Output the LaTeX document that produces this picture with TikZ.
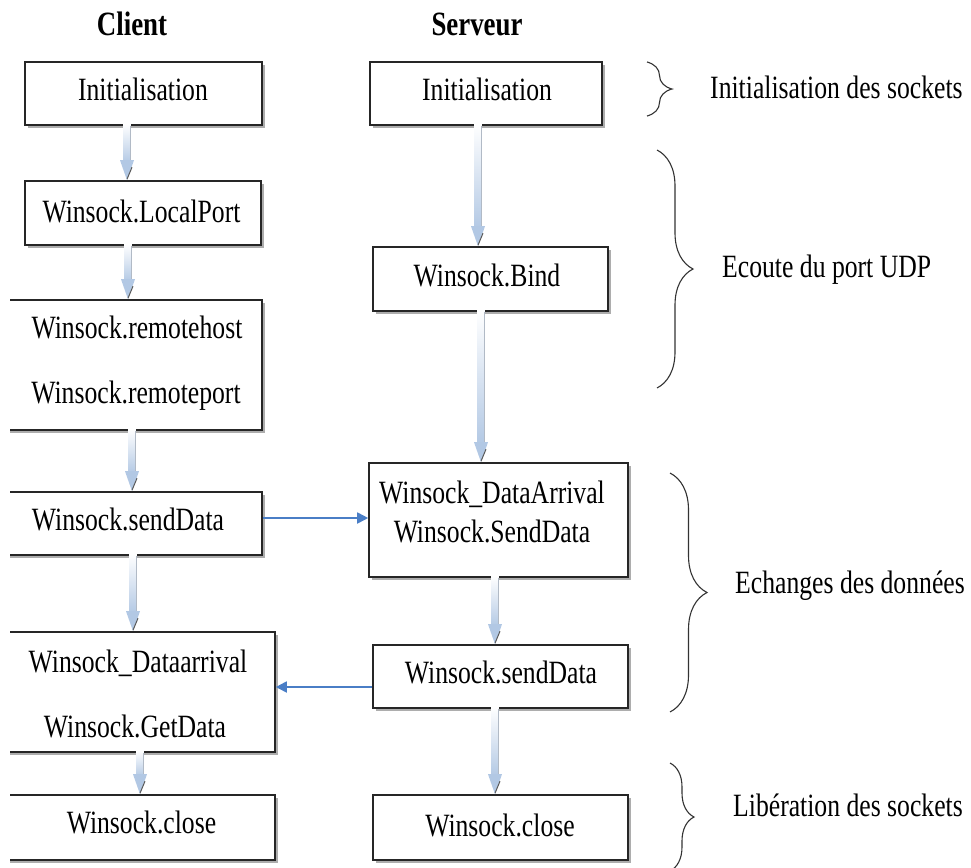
\documentclass[tikz,border=0pt]{standalone}
\usepackage{fontspec}
\setmainfont{Liberation Serif}[FakeStretch=0.79]
\usetikzlibrary{calc,shadows,decorations.pathreplacing,arrows.meta}
\definecolor{arrowfill}{RGB}{178,200,228}
\definecolor{linkblue}{RGB}{74,126,198}
\newcommand\boxfont{\fontsize{32.5}{39}\selectfont}
\newcommand\headfont{\fontsize{34}{40}\selectfont\bfseries}
\newcommand\flowarrow[3]{%
  \path let \p1=(#1.south), \p2=(#2.north) in
    [top color=white, bottom color=arrowfill]
    ({#3pt-3.5pt},{\y1+2pt}) rectangle ({#3pt+3.5pt},{\y2+17pt});
  \path let \p1=(#1.south), \p2=(#2.north) in
    [draw=arrowfill!70!black!60, line width=0.6pt]
    ({#3pt+3.5pt},{\y1}) -- ({#3pt+3.5pt},{\y2+19pt});
  \path let \p2=(#2.north) in
    [fill=arrowfill]
    ({#3pt-7pt},{\y2+20pt}) -- ({#3pt+7pt},{\y2+20pt}) -- ({#3pt},{\y2}) -- cycle;
  \path let \p2=(#2.north) in
    [draw=black!65, line width=1pt]
    ({#3pt},{\y2+1pt}) -- ({#3pt+5pt},{\y2+13pt});
}
\tikzset{
  box/.style={draw=black!85, line width=1.6pt, fill=white, inner sep=0pt,
    drop shadow={shadow xshift=2.5pt, shadow yshift=-3pt, fill=black!40, opacity=0.8}},
  txt/.style={inner sep=0pt, font=\boxfont, anchor=base},
  lbl/.style={inner sep=0pt, font=\boxfont, anchor=base west},
  head/.style={inner sep=0pt, font=\headfont, anchor=base},
  link/.style={draw=linkblue, line width=1.8pt, -{Triangle[length=11pt,width=11pt]}},
  brc/.style={draw=black!80, line width=1.1pt, decorate}
}
\begin{document}
\begin{tikzpicture}[x=1pt,y=-1pt]
\useasboundingbox (0,0) rectangle (971,867);

% headers
\node[head] (hc) at (132,36) {Client};
\node[head] (hs) at (477,36) {Serveur};

% client boxes
\node[box, minimum width=237, minimum height=63] (C1) at (143.5,93.5) {};
\node[box, minimum width=236, minimum height=64] (C2) at (143,213) {};
\begin{scope}
\clip (10,0) rectangle (971,867);
\node[box, minimum width=272, minimum height=130] (C3) at (126,365) {};
\node[box, minimum width=272, minimum height=63] (C4) at (126,523.5) {};
\node[box, minimum width=285, minimum height=120] (C5) at (132.5,692) {};
\node[box, minimum width=285, minimum height=65] (C6) at (132.5,827.5) {};
\end{scope}

% server boxes
\node[box, minimum width=232, minimum height=63] (S1) at (486,93.5) {};
\node[box, minimum width=235, minimum height=64] (S2) at (490.5,279) {};
\node[box, minimum width=259, minimum height=114] (S3) at (498.5,520) {};
\node[box, minimum width=255, minimum height=63] (S4) at (500.5,676.5) {};
\node[box, minimum width=255, minimum height=65] (S5) at (500.5,827.5) {};

% texts
\node[txt] (tc1) at (143,100) {Initialisation};
\node[txt] (tc2) at (141.5,222) {Winsock.LocalPort};
\node[txt] (tc3a) at (137,338) {Winsock.remotehost};
\node[txt] (tc3b) at (136,403) {Winsock.remoteport};
\node[txt] (tc4) at (128,530) {Winsock.sendData};
\node[txt] (tc5a) at (138,672) {Winsock\_Dataarrival};
\node[txt] (tc5b) at (135,737) {Winsock.GetData};
\node[txt] (tc6) at (141.5,833) {Winsock.close};

\node[txt] (ts1) at (487,100) {Initialisation};
\node[txt] (ts2) at (487,286) {Winsock.Bind};
\node[txt] (ts3a) at (492,503) {Winsock\_DataArrival};
\node[txt] (ts3b) at (492,542) {Winsock.SendData};
\node[txt] (ts4) at (501,683) {Winsock.sendData};
\node[txt] (ts5) at (500,836) {Winsock.close};

% flow arrows
\flowarrow{C1}{C2}{127}
\flowarrow{C2}{C3}{128}
\flowarrow{C3}{C4}{132}
\flowarrow{C4}{C5}{133}
\flowarrow{C5}{C6}{140}
\flowarrow{S1}{S2}{478}
\flowarrow{S2}{S3}{481}
\flowarrow{S3}{S4}{495}
\flowarrow{S4}{S5}{495}

% blue links
\draw[link] ([yshift=5.5pt]C4.east) -- ([yshift=5.5pt]C4.east -| S3.west);
\draw[link] ([yshift=-10.5pt]S4.west) -- ([yshift=-10.5pt]S4.west -| C5.east);

% braces
\coordinate (b1t) at (647,62);  \coordinate (b1b) at (647,116);
\coordinate (b2t) at (657,150); \coordinate (b2b) at (657,388);
\coordinate (b3t) at (670,473); \coordinate (b3b) at (670,712);
\coordinate (b4t) at (670,763); \coordinate (b4b) at (670,871);
\draw[brc, decoration={brace, amplitude=25pt}] (b1t) -- (b1b);
\draw[brc, decoration={brace, amplitude=36pt}] (b2t) -- (b2b);
\draw[brc, decoration={brace, amplitude=37pt}] (b3t) -- (b3b);
\draw[brc, decoration={brace, amplitude=24pt}] (b4t) -- (b4b);

\node[lbl] (l1) at (710,98) {Initialisation des sockets};
\node[lbl] (l2) at (722,277) {Ecoute du port UDP};
\node[lbl] (l3) at (735,593) {Echanges des données};
\node[lbl] (l4) at (733,816) {Libération des sockets};
\end{tikzpicture}
\end{document}
